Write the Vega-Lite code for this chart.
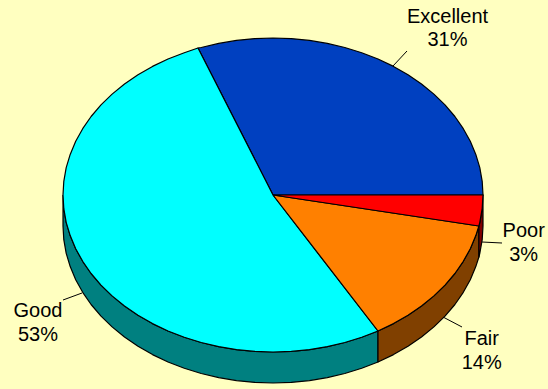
{
"$schema":"https://vega.github.io/schema/vega-lite/v6.json",
"width":548,"height":389,"padding":0,"autosize":{"type":"none"},
"background":"#FFFFC0",
"view":{"stroke":null},
"datasets":{
"shapes":[
{"s":"Good side","i":0,"x":63,"y":195},{"s":"Good side","i":1,"x":63.8,"y":208.7},{"s":"Good side","i":2,"x":66.2,"y":222.3},{"s":"Good side","i":3,"x":70.2,"y":235.6},{"s":"Good side","i":4,"x":75.7,"y":248.7},{"s":"Good side","i":5,"x":82.7,"y":261.3},{"s":"Good side","i":6,"x":91.1,"y":273.5},{"s":"Good side","i":7,"x":101,"y":285.1},{"s":"Good side","i":8,"x":112.1,"y":295.9},{"s":"Good side","i":9,"x":124.5,"y":306},{"s":"Good side","i":10,"x":138,"y":315.3},{"s":"Good side","i":11,"x":152.5,"y":323.6},{"s":"Good side","i":12,"x":168,"y":331},{"s":"Good side","i":13,"x":184.3,"y":337.3},{"s":"Good side","i":14,"x":201.2,"y":342.5},{"s":"Good side","i":15,"x":218.7,"y":346.6},{"s":"Good side","i":16,"x":236.5,"y":349.6},{"s":"Good side","i":17,"x":254.7,"y":351.4},{"s":"Good side","i":18,"x":273,"y":352},{"s":"Good side","i":19,"x":291.3,"y":351.4},{"s":"Good side","i":20,"x":309.5,"y":349.6},{"s":"Good side","i":21,"x":327.3,"y":346.6},{"s":"Good side","i":22,"x":344.8,"y":342.5},{"s":"Good side","i":23,"x":361.7,"y":337.3},{"s":"Good side","i":24,"x":378,"y":331},
{"s":"Good side","i":25,"x":378,"y":362},{"s":"Good side","i":26,"x":361.7,"y":368.3},{"s":"Good side","i":27,"x":344.8,"y":373.5},{"s":"Good side","i":28,"x":327.3,"y":377.6},{"s":"Good side","i":29,"x":309.5,"y":380.6},{"s":"Good side","i":30,"x":291.3,"y":382.4},{"s":"Good side","i":31,"x":273,"y":383},{"s":"Good side","i":32,"x":254.7,"y":382.4},{"s":"Good side","i":33,"x":236.5,"y":380.6},{"s":"Good side","i":34,"x":218.7,"y":377.6},{"s":"Good side","i":35,"x":201.2,"y":373.5},{"s":"Good side","i":36,"x":184.3,"y":368.3},{"s":"Good side","i":37,"x":168,"y":362},{"s":"Good side","i":38,"x":152.5,"y":354.6},{"s":"Good side","i":39,"x":138,"y":346.3},{"s":"Good side","i":40,"x":124.5,"y":337},{"s":"Good side","i":41,"x":112.1,"y":326.9},{"s":"Good side","i":42,"x":101,"y":316.1},{"s":"Good side","i":43,"x":91.1,"y":304.5},{"s":"Good side","i":44,"x":82.7,"y":292.3},{"s":"Good side","i":45,"x":75.7,"y":279.7},{"s":"Good side","i":46,"x":70.2,"y":266.6},{"s":"Good side","i":47,"x":66.2,"y":253.3},{"s":"Good side","i":48,"x":63.8,"y":239.7},{"s":"Good side","i":49,"x":63,"y":226},{"s":"Good side","i":50,"x":63,"y":195},
{"s":"Fair side","i":0,"x":378,"y":331},{"s":"Fair side","i":1,"x":393.5,"y":323.6},{"s":"Fair side","i":2,"x":408,"y":315.3},{"s":"Fair side","i":3,"x":421.5,"y":306},{"s":"Fair side","i":4,"x":433.9,"y":295.9},{"s":"Fair side","i":5,"x":445,"y":285.1},{"s":"Fair side","i":6,"x":454.9,"y":273.5},{"s":"Fair side","i":7,"x":463.3,"y":261.3},{"s":"Fair side","i":8,"x":470.3,"y":248.7},{"s":"Fair side","i":9,"x":475.8,"y":235.6},{"s":"Fair side","i":10,"x":478.9,"y":226},{"s":"Fair side","i":11,"x":478.9,"y":257},{"s":"Fair side","i":12,"x":475.8,"y":266.6},{"s":"Fair side","i":13,"x":470.3,"y":279.7},{"s":"Fair side","i":14,"x":463.3,"y":292.3},{"s":"Fair side","i":15,"x":454.9,"y":304.5},{"s":"Fair side","i":16,"x":445,"y":316.1},{"s":"Fair side","i":17,"x":433.9,"y":326.9},{"s":"Fair side","i":18,"x":421.5,"y":337},{"s":"Fair side","i":19,"x":408,"y":346.3},{"s":"Fair side","i":20,"x":393.5,"y":354.6},{"s":"Fair side","i":21,"x":378,"y":362},{"s":"Fair side","i":22,"x":378,"y":331},
{"s":"Poor side","i":0,"x":478.9,"y":226},{"s":"Poor side","i":1,"x":479.8,"y":222.3},{"s":"Poor side","i":2,"x":482.2,"y":208.7},{"s":"Poor side","i":3,"x":483,"y":195},{"s":"Poor side","i":4,"x":483,"y":226},{"s":"Poor side","i":5,"x":482.2,"y":239.7},{"s":"Poor side","i":6,"x":479.8,"y":253.3},{"s":"Poor side","i":7,"x":478.9,"y":257},{"s":"Poor side","i":8,"x":478.9,"y":226},
{"s":"Excellent","i":0,"x":273,"y":195},{"s":"Excellent","i":1,"x":483,"y":195},{"s":"Excellent","i":2,"x":482.2,"y":181.3},{"s":"Excellent","i":3,"x":479.8,"y":167.7},{"s":"Excellent","i":4,"x":475.8,"y":154.4},{"s":"Excellent","i":5,"x":470.3,"y":141.3},{"s":"Excellent","i":6,"x":463.3,"y":128.7},{"s":"Excellent","i":7,"x":454.9,"y":116.5},{"s":"Excellent","i":8,"x":445,"y":104.9},{"s":"Excellent","i":9,"x":433.9,"y":94.1},{"s":"Excellent","i":10,"x":421.5,"y":84},{"s":"Excellent","i":11,"x":408,"y":74.7},{"s":"Excellent","i":12,"x":393.5,"y":66.4},{"s":"Excellent","i":13,"x":378,"y":59},{"s":"Excellent","i":14,"x":361.7,"y":52.7},{"s":"Excellent","i":15,"x":344.8,"y":47.5},{"s":"Excellent","i":16,"x":327.3,"y":43.4},{"s":"Excellent","i":17,"x":309.5,"y":40.4},{"s":"Excellent","i":18,"x":291.3,"y":38.6},{"s":"Excellent","i":19,"x":273,"y":38},{"s":"Excellent","i":20,"x":254.7,"y":38.6},{"s":"Excellent","i":21,"x":236.5,"y":40.4},{"s":"Excellent","i":22,"x":218.7,"y":43.4},{"s":"Excellent","i":23,"x":201.2,"y":47.5},{"s":"Excellent","i":24,"x":198,"y":48},{"s":"Excellent","i":25,"x":273,"y":195},
{"s":"Good","i":0,"x":273,"y":195},{"s":"Good","i":1,"x":198,"y":48},{"s":"Good","i":2,"x":184.3,"y":52.7},{"s":"Good","i":3,"x":168,"y":59},{"s":"Good","i":4,"x":152.5,"y":66.4},{"s":"Good","i":5,"x":138,"y":74.7},{"s":"Good","i":6,"x":124.5,"y":84},{"s":"Good","i":7,"x":112.1,"y":94.1},{"s":"Good","i":8,"x":101,"y":104.9},{"s":"Good","i":9,"x":91.1,"y":116.5},{"s":"Good","i":10,"x":82.7,"y":128.7},{"s":"Good","i":11,"x":75.7,"y":141.3},{"s":"Good","i":12,"x":70.2,"y":154.4},{"s":"Good","i":13,"x":66.2,"y":167.7},{"s":"Good","i":14,"x":63.8,"y":181.3},{"s":"Good","i":15,"x":63,"y":195},{"s":"Good","i":16,"x":63.8,"y":208.7},{"s":"Good","i":17,"x":66.2,"y":222.3},{"s":"Good","i":18,"x":70.2,"y":235.6},{"s":"Good","i":19,"x":75.7,"y":248.7},{"s":"Good","i":20,"x":82.7,"y":261.3},{"s":"Good","i":21,"x":91.1,"y":273.5},{"s":"Good","i":22,"x":101,"y":285.1},{"s":"Good","i":23,"x":112.1,"y":295.9},{"s":"Good","i":24,"x":124.5,"y":306},{"s":"Good","i":25,"x":138,"y":315.3},{"s":"Good","i":26,"x":152.5,"y":323.6},{"s":"Good","i":27,"x":168,"y":331},{"s":"Good","i":28,"x":184.3,"y":337.3},{"s":"Good","i":29,"x":201.2,"y":342.5},{"s":"Good","i":30,"x":218.7,"y":346.6},{"s":"Good","i":31,"x":236.5,"y":349.6},{"s":"Good","i":32,"x":254.7,"y":351.4},{"s":"Good","i":33,"x":273,"y":352},{"s":"Good","i":34,"x":291.3,"y":351.4},{"s":"Good","i":35,"x":309.5,"y":349.6},{"s":"Good","i":36,"x":327.3,"y":346.6},{"s":"Good","i":37,"x":344.8,"y":342.5},{"s":"Good","i":38,"x":361.7,"y":337.3},{"s":"Good","i":39,"x":378,"y":331},{"s":"Good","i":40,"x":273,"y":195},
{"s":"Fair","i":0,"x":273,"y":195},{"s":"Fair","i":1,"x":378,"y":331},{"s":"Fair","i":2,"x":393.5,"y":323.6},{"s":"Fair","i":3,"x":408,"y":315.3},{"s":"Fair","i":4,"x":421.5,"y":306},{"s":"Fair","i":5,"x":433.9,"y":295.9},{"s":"Fair","i":6,"x":445,"y":285.1},{"s":"Fair","i":7,"x":454.9,"y":273.5},{"s":"Fair","i":8,"x":463.3,"y":261.3},{"s":"Fair","i":9,"x":470.3,"y":248.7},{"s":"Fair","i":10,"x":475.8,"y":235.6},{"s":"Fair","i":11,"x":478.9,"y":226},{"s":"Fair","i":12,"x":273,"y":195},
{"s":"Poor","i":0,"x":273,"y":195},{"s":"Poor","i":1,"x":478.9,"y":226},{"s":"Poor","i":2,"x":479.8,"y":222.3},{"s":"Poor","i":3,"x":482.2,"y":208.7},{"s":"Poor","i":4,"x":483,"y":195},{"s":"Poor","i":5,"x":273,"y":195}
],
"leaders":[
{"name":"Excellent","x":393,"y":66,"x2":407,"y2":51},
{"name":"Poor","x":482,"y":242,"x2":502,"y2":243},
{"name":"Fair","x":443,"y":317,"x2":462,"y2":327},
{"name":"Good","x":82,"y":293,"x2":63,"y2":300}
],
"labels":[
{"t":"Excellent","x":447.5,"y":17},{"t":"31%","x":447.5,"y":40},
{"t":"Poor","x":523.7,"y":231},{"t":"3%","x":523.7,"y":255},
{"t":"Fair","x":481.7,"y":339},{"t":"14%","x":481.7,"y":363},
{"t":"Good","x":38,"y":311},{"t":"53%","x":38,"y":335}
]
},
"layer":[
{"data":{"name":"leaders"},
 "mark":{"type":"rule","stroke":"#000000","strokeWidth":1},
 "encoding":{
  "x":{"field":"x","type":"quantitative","scale":{"domain":[0,548],"range":[0,548]},"axis":null},
  "y":{"field":"y","type":"quantitative","scale":{"domain":[0,389],"range":[0,389]},"axis":null},
  "x2":{"field":"x2"},"y2":{"field":"y2"}}},
{"data":{"name":"shapes"},
 "mark":{"type":"line","stroke":"#000000","strokeWidth":1.2,"strokeJoin":"round"},
 "encoding":{
  "x":{"field":"x","type":"quantitative","scale":{"domain":[0,548],"range":[0,548]},"axis":null},
  "y":{"field":"y","type":"quantitative","scale":{"domain":[0,389],"range":[0,389]},"axis":null},
  "detail":{"field":"s"},
  "order":{"field":"i","type":"quantitative"},
  "fill":{"field":"s","type":"nominal","legend":null,"sort":null,
   "scale":{"domain":["Good side","Fair side","Poor side","Excellent","Good","Fair","Poor"],
            "range":["#008080","#804000","#800000","#0040C0","#00FFFF","#FF8000","#FF0000"]}}}},
{"data":{"name":"labels"},
 "mark":{"type":"text","font":"Liberation Sans","fontSize":20,"align":"center","baseline":"middle","fill":"#000000"},
 "encoding":{
  "x":{"field":"x","type":"quantitative","scale":{"domain":[0,548],"range":[0,548]},"axis":null},
  "y":{"field":"y","type":"quantitative","scale":{"domain":[0,389],"range":[0,389]},"axis":null},
  "text":{"field":"t"}}}
]
}
